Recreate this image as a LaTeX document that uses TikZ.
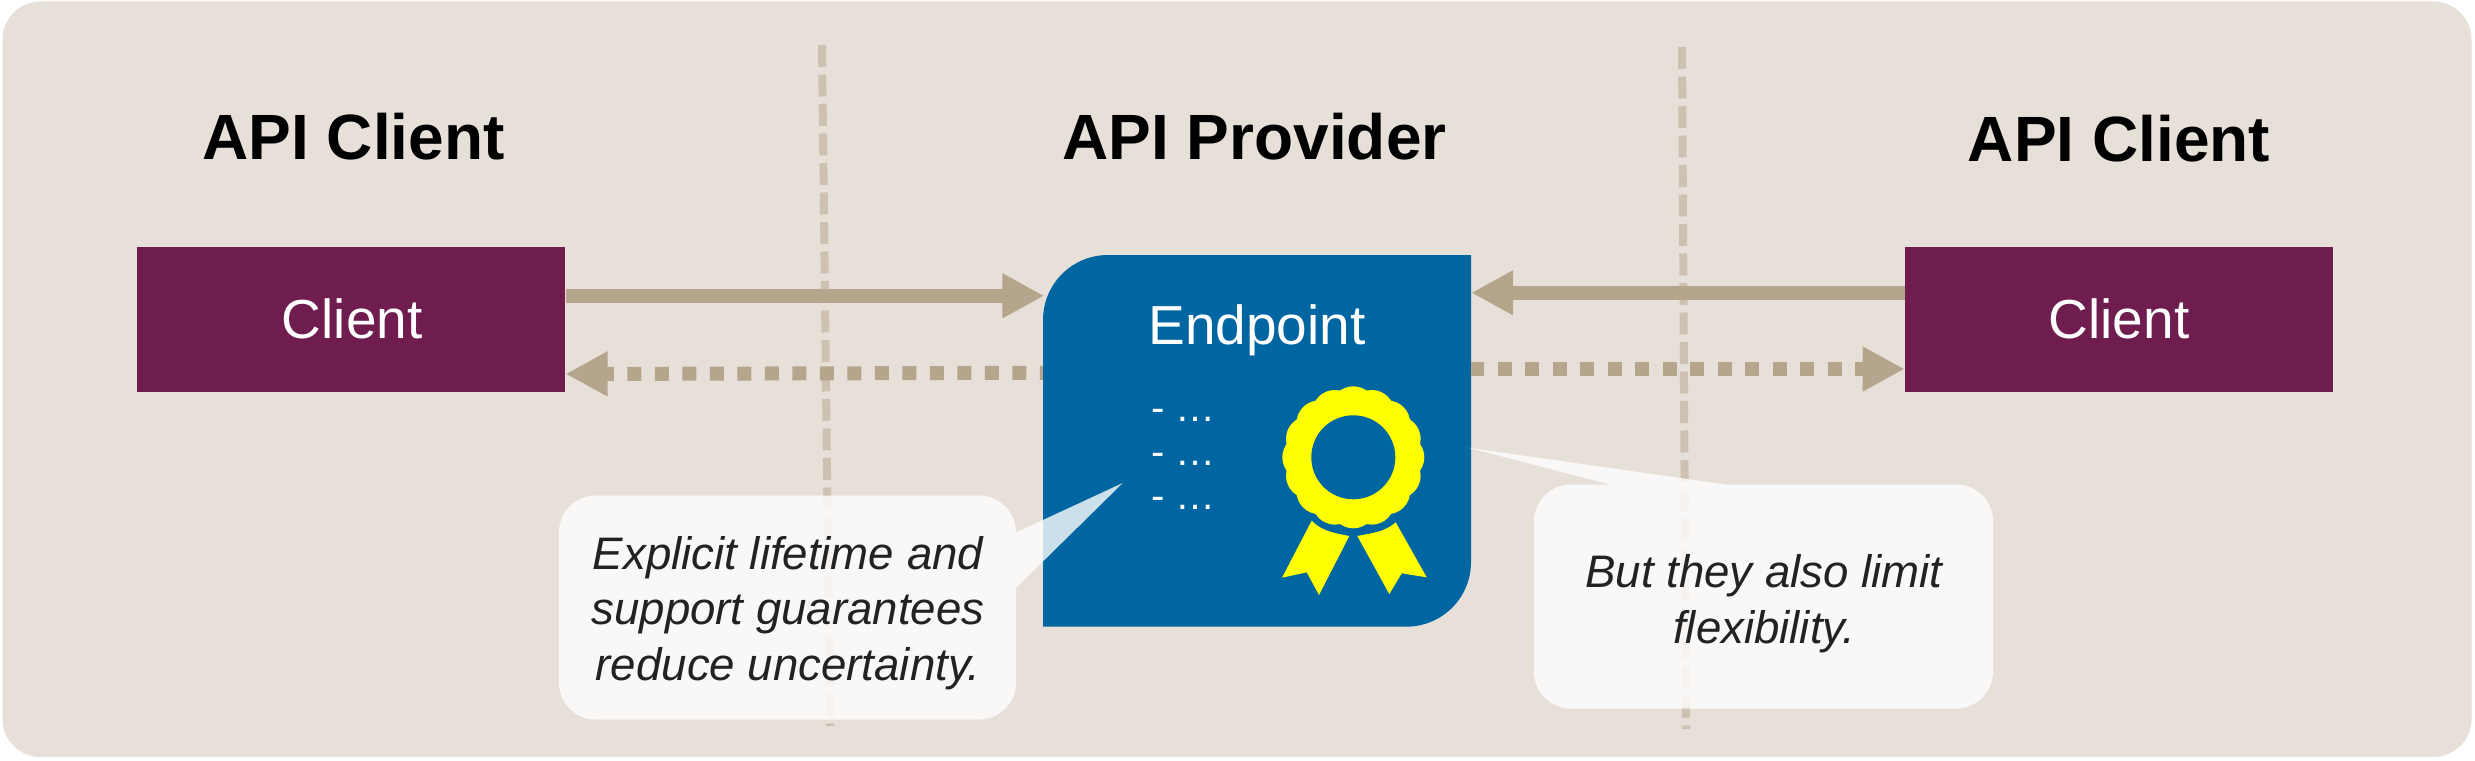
\documentclass[tikz,border=0pt]{standalone}
\usepackage{fontspec}
\setmainfont{Liberation Sans}
\usetikzlibrary{arrows.meta}
\definecolor{bgc}{HTML}{E7E0D9}
\definecolor{tan}{HTML}{B5A58D}
\definecolor{plum}{HTML}{6F1C4E}
\definecolor{epblue}{HTML}{0066A1}
\definecolor{ribbon}{HTML}{FFFF00}
\definecolor{ink}{HTML}{222222}
\tikzset{
  head/.style={font=\fontsize{64}{70}\selectfont\bfseries,text=black,inner sep=0pt},
  clientbox/.style={fill=plum,text=white,minimum width=428.3pt,minimum height=145pt,inner sep=0pt,font=\fontsize{55}{60}\selectfont},
  solidarrow/.style={draw=tan,line width=14pt,-{Triangle[length=42pt,width=42pt]}},
  dotarrow/.style={draw=tan,line width=14pt,-{Triangle[length=42pt,width=42pt]}},
  divider/.style={draw=tan,opacity=.5,line width=8pt,dash pattern=on 22pt off 7.5pt},
  bubble/.style={fill=white,fill opacity=.8},
  bubbletext/.style={text=ink,inner sep=0pt,align=center,font=\fontsize{45.6}{55.5}\selectfont\itshape},
  listitem/.style={text=white,inner sep=0pt,anchor=base west,font=\fontsize{40}{44}\selectfont},
}
\begin{document}
\begin{tikzpicture}[x=1pt,y=-1pt]
\useasboundingbox (0,0) rectangle (2475,760);
\fill[white] (0,0) rectangle (2475,760);
\fill[bgc,rounded corners=38pt] (2.5,1.5) rectangle (2471.5,757);
% headings
\node[head] (h1) at (353.5,137) {API Client};
\node[head] (h2) at (1254.5,137) {API Provider};
\node[head] (h3) at (2119,139) {API Client};
% clients
\node[clientbox] (c1) at (351.2,319.2) {\hspace*{2pt}Client};
\node[clientbox] (c2) at (2119,319.2) {Client};
% endpoint
\fill[epblue] (1043,626.7) -- (1043,320) .. controls (1043,284) and (1072,255) .. (1108,255)
  -- (1471,255) -- (1471,562) .. controls (1471,598) and (1442,626.7) .. (1406,626.7) -- cycle;
\node[minimum width=428pt,minimum height=371.7pt,inner sep=0pt] (ep) at (1257,440.85) {};
\node[text=white,inner sep=0pt,font=\fontsize{55}{60}\selectfont] (eplabel) at (1257,330) {Endpoint};
\node[listitem] (li1) at (1151,421.5) {- …};
\node[listitem] (li2) at (1151,465.5) {- …};
\node[listitem] (li3) at (1151,509.5) {- …};
% rosette
\fill[ribbon] (1353.3,457.3) circle (50);
\foreach \a in {0,22.5,...,337.5} \fill[ribbon] (1353.3,457.3) ++(\a:48.3) circle (22.7);
\fill[epblue] (1353.3,457.3) circle (42);
\fill[ribbon] (1311.7,520.7) .. controls (1320,530) and (1333,533) .. (1349.3,536) -- (1319,595) -- (1306.7,572.3) -- (1282,577.7) -- cycle;
\fill[ribbon] (1395.7,522.3) .. controls (1385,532) and (1372,533) .. (1357.3,536) -- (1389.3,594) -- (1401.7,573.3) -- (1426.7,577.3) -- cycle;
% connectors
\coordinate (a1s) at ([yshift=23.4pt]c1.east);
\coordinate (a1e) at ([xshift=1.5pt]a1s -| ep.west);
\coordinate (a2s) at ([yshift=26.4pt]c2.west);
\coordinate (a2e) at (a2s -| ep.east);
\coordinate (a3s) at (ep.west |- 0,372.8);
\coordinate (a3e) at ([yshift=-54.8pt]c1.east);
\coordinate (a4s) at (ep.east |- 0,369);
\coordinate (a4e) at (c2.west |- a4s);
\draw[solidarrow] (a1s) -- (a1e);
\draw[solidarrow] (a2s) -- (a2e);
\draw[dotarrow,dash pattern=on 14pt off 13.5pt,dash phase=11pt] (a3s) -- (a3e);
\draw[dotarrow,dash pattern=on 14pt off 13.5pt,dash phase=1pt] (a4s) -- (a4e);
% dividers
\coordinate (d1t) at (822,45);
\coordinate (d1b) at (830,726);
\coordinate (d2t) at (1682,47);
\coordinate (d2b) at (1686,729);
\draw[divider] (d1t) -- (d1b);
\draw[divider] (d2t) -- (d2b);
% callouts
\path[bubble] (596,495.5) -- (979,495.5) .. controls (999.4,495.5) and (1016,512) .. (1016,532.5)
  -- (1122.7,483) -- (1016,588) -- (1016,682.6) .. controls (1016,703) and (999.4,719.6) .. (979,719.6)
  -- (596,719.6) .. controls (575.6,719.6) and (559,703) .. (559,682.6)
  -- (559,532.5) .. controls (559,512) and (575.6,495.5) .. (596,495.5) -- cycle;
\node[bubbletext] (t1) at (788,613) {Explicit lifetime and\\support guarantees\\reduce uncertainty.};
\path[bubble] (1571,484.5) -- (1610,484.5) -- (1468.3,447.7) -- (1725,484.5) -- (1956,484.5)
  .. controls (1976.4,484.5) and (1993,501) .. (1993,521.5) -- (1993,671.5)
  .. controls (1993,692) and (1976.4,708.5) .. (1956,708.5) -- (1571,708.5)
  .. controls (1550.6,708.5) and (1534,692) .. (1534,671.5) -- (1534,521.5)
  .. controls (1534,501) and (1550.6,484.5) .. (1571,484.5) -- cycle;
\node[bubbletext] (t2) at (1764,603.5) {But they also limit\\flexibility.};
\end{tikzpicture}
\end{document}
